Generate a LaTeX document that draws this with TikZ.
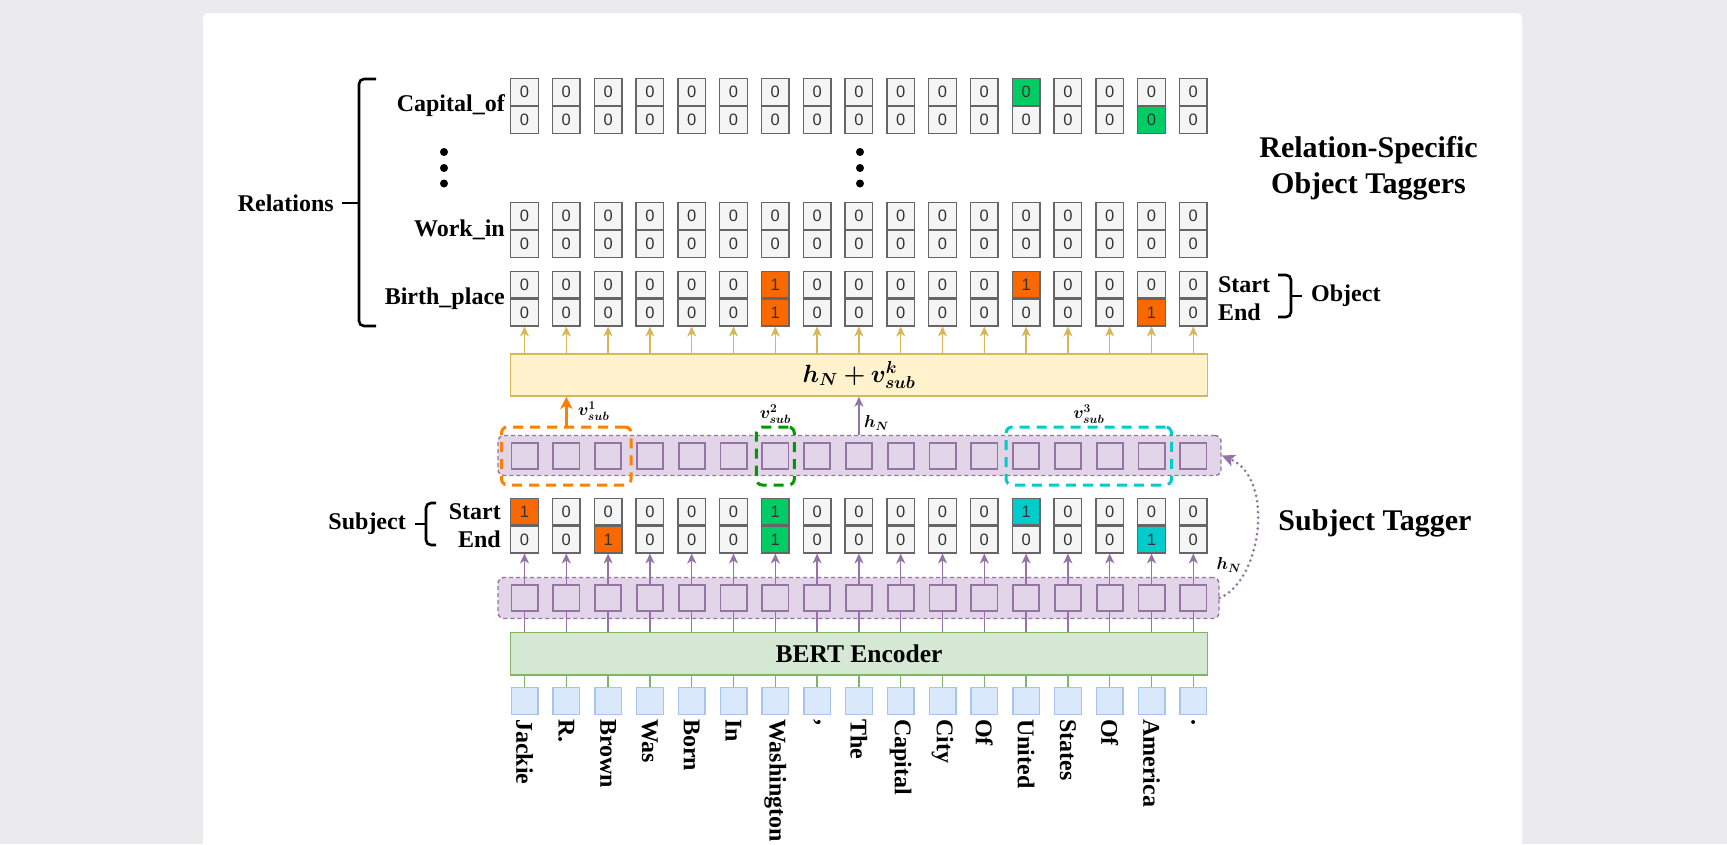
\documentclass[tikz,border=0pt]{standalone}
\usepackage{fontspec}
\usepackage{amsmath,bm}
\setmainfont{Liberation Serif}
\newfontfamily\cellfont{Liberation Sans}
\usetikzlibrary{arrows.meta,positioning,fit}

\definecolor{bggray}{HTML}{EBEBEE}
\definecolor{cellfill}{HTML}{F5F5F5}
\definecolor{cellline}{HTML}{666666}
\definecolor{celltext}{HTML}{333333}
\definecolor{tagorange}{HTML}{FA6800}
\definecolor{taggreen}{HTML}{00CC66}
\definecolor{tagcyan}{HTML}{00CCCC}
\definecolor{hidfill}{HTML}{E1D5E7}
\definecolor{hidline}{HTML}{9673A6}
\definecolor{sumfill}{HTML}{FFF2CC}
\definecolor{sumline}{HTML}{D6B656}
\definecolor{encfill}{HTML}{D5E8D4}
\definecolor{encline}{HTML}{82B366}
\definecolor{tokfill}{HTML}{DAE8FC}
\definecolor{tokline}{HTML}{A9C4EB}
\definecolor{boxorange}{HTML}{FF8000}
\definecolor{boxgreen}{HTML}{009900}
\definecolor{boxcyan}{HTML}{00CCCC}

\tikzset{
  cell/.style={draw=cellline, fill=cellfill, line width=1.4pt, minimum width=27.6pt, minimum height=26.6pt, inner sep=0pt, text=celltext, font=\cellfont\fontsize{16.5}{16.5}\selectfont},
  hidsq/.style={draw=hidline, fill=hidfill, line width=1.8pt, minimum size=26.2pt, inner sep=0pt},
  band/.style={draw=hidline, fill=hidfill, line width=1.4pt, dash pattern=on 4pt off 3pt, rounded corners=6pt, inner sep=0pt},
  tok/.style={draw=tokline, fill=tokfill, line width=1.4pt, minimum width=26.6pt, minimum height=27pt, inner sep=0pt},
  word/.style={font=\fontsize{24}{24}\selectfont\bfseries, rotate=-90, anchor=west, inner sep=0pt},
  lbl/.style={font=\fontsize{24}{28}\selectfont\bfseries, inner sep=0pt},
  headline/.style={font=\fontsize{30}{36}\selectfont\bfseries, align=center, inner sep=0pt},
  sumbox/.style={draw=sumline, fill=sumfill, line width=1.5pt, inner sep=0pt, font=\fontsize{27}{27}\selectfont},
  encbox/.style={draw=encline, fill=encfill, line width=1.5pt, inner sep=0pt, font=\fontsize{25.5}{26}\selectfont\bfseries},
  subspan/.style={line width=3pt, dash pattern=on 10pt off 7pt, rounded corners=6pt, inner ysep=15pt},
  sublbl/.style={font=\fontsize{17}{17}\selectfont, inner sep=0pt},
  sumarrow/.style={draw=sumline, line width=1.5pt, -{Stealth[length=10pt,width=9pt,inset=3pt]}},
  hidarrow/.style={draw=hidline, line width=1.5pt, -{Stealth[length=10pt,width=9pt,inset=3pt]}},
  hidwire/.style={draw=hidline, line width=1.5pt},
  encwire/.style={draw=encline, line width=1.5pt},
  brk/.style={line width=2.6pt, rounded corners=5pt},
  loopback/.style={draw=hidline, line width=3pt, line cap=round, dash pattern=on 0pt off 5.5pt, -{Stealth[length=13pt,width=12pt,inset=3pt]}}
}

\begin{document}
\begin{tikzpicture}[x=1pt,y=-1pt]
\useasboundingbox (0,0) rectangle (1727,844);
\fill[bggray] (0,0) rectangle (1727,844);
\fill[white, rounded corners=5pt] (203,13) rectangle (1522,870);

% hidden state bands
\node[band, minimum width=723pt, minimum height=40pt] (hid2) at (859.5,455.5) {};
\node[band, minimum width=721pt, minimum height=41pt] (hid1) at (858.5,598) {};

% one column per token
\foreach \w [count=\n from 0] in {Jackie,R.,Brown,Was,Born,In,Washington,{,},The,Capital,City,Of,United,States,Of,America,.} {
  \pgfmathsetmacro\cx{524.5+41.8*\n}
  \node[tok] (tok-\n) at (\cx,701) {};
  \node[word] (w-\n) at (\cx,719) {\w};
  \node[hidsq] (low-\n) at (\cx,598) {};
  \node[hidsq] (up-\n) at (\cx,456) {};
  \foreach \r/\ty in {subj/497.5,birth/270.5,work/202,cap/78} {
    \node[cell] (\r-\n-s) at (\cx,\ty+14) {0};
    \node[cell] (\r-\n-e) at (\cx,\ty+42) {0};
  }
}

% tagged positions
\node[cell, fill=taggreen] (cap-12-s) at (cap-12-s) {0};
\node[cell, fill=taggreen] (cap-15-e) at (cap-15-e) {0};
\node[cell, fill=tagorange] (birth-6-s) at (birth-6-s) {1};
\node[cell, fill=tagorange] (birth-6-e) at (birth-6-e) {1};
\node[cell, fill=tagorange] (birth-12-s) at (birth-12-s) {1};
\node[cell, fill=tagorange] (birth-15-e) at (birth-15-e) {1};
\node[cell, fill=tagorange] (subj-0-s) at (subj-0-s) {1};
\node[cell, fill=tagorange] (subj-2-e) at (subj-2-e) {1};
\node[cell, fill=taggreen] (subj-6-s) at (subj-6-s) {1};
\node[cell, fill=taggreen] (subj-6-e) at (subj-6-e) {1};
\node[cell, fill=tagcyan] (subj-12-s) at (subj-12-s) {1};
\node[cell, fill=tagcyan] (subj-15-e) at (subj-15-e) {1};

\node[sumbox, minimum width=697pt, minimum height=42pt] (sum) at (859,375) {$\bm{h_N+v_{sub}^{k}}$};
\node[encbox, minimum width=697pt, minimum height=42.8pt] (enc) at (859,653.8) {BERT Encoder};

\foreach \n in {0,...,16} {
  \draw[encwire] (tok-\n) -- (tok-\n |- enc.south);
  \draw[hidwire] (enc.north -| low-\n) -- (low-\n);
  \draw[hidarrow] (low-\n) -- (subj-\n-e);
  \draw[sumarrow] (sum.north -| birth-\n-e) -- (birth-\n-e);
}

% subject spans
\node[subspan, draw=boxorange, inner xsep=9pt, fit=(up-0)(up-2)] (span1) {};
\node[subspan, draw=boxgreen, inner xsep=5pt, fit=(up-6)] (span2) {};
\node[subspan, draw=boxcyan, inner xsep=6pt, fit=(up-12)(up-15)] (span3) {};

\draw[boxorange, line width=3pt, -{Stealth[length=12pt,width=12pt,inset=3pt]}] (span1.north -| up-1) -- (sum.south -| up-1);
\node[sublbl, anchor=west] (v1) at (578,411) {$\bm{v_{sub}^{1}}$};
\node[sublbl, above=2pt of span2] (v2) {$\bm{v_{sub}^{2}}$};
\node[sublbl, above=2pt of span3] (v3) {$\bm{v_{sub}^{3}}$};
\draw[hidarrow, line width=2.4pt] (hid2.north -| up-8) -- (sum.south -| up-8);
\node[sublbl, anchor=west] (hn1) at (864,423) {$\bm{h_N}$};
\draw[loopback] (hid1.east) .. controls (1262,580) and (1275,478) .. (hid2.east);
\node[sublbl] (hn2) at (1229,565) {$\bm{h_N}$};

% row names
\node[lbl, anchor=east] (capname) at ([xshift=-5pt]cap-0-s.south west) {Capital\_of};
\node[lbl, anchor=east] (workname) at ([xshift=-5pt]work-0-s.south west) {Work\_in};
\node[lbl, anchor=east] (birthname) at ([xshift=-5pt]birth-0-s.south west) {Birth\_place};
\node[lbl, anchor=east] (sstart) at ([xshift=-9pt]subj-0-s.west) {Start};
\node[lbl, anchor=east] (send) at ([xshift=-9pt]subj-0-e.west) {End};
\node[lbl, anchor=west] (ostart) at ([xshift=10pt]birth-16-s.east) {Start};
\node[lbl, anchor=west] (oend) at ([xshift=10pt]birth-16-e.east) {End};

% braces
\draw[brk] (376,79) -| (359,326) -- (376,326);
\draw[brk] (359,203) -- (342,203);
\node[lbl, anchor=east] (rel) at (334,203) {Relations};
\draw[brk] (436,503) -| (426,545) -- (436,545);
\draw[brk] (426,524) -- (415,524);
\node[lbl, anchor=east] (subjname) at (406,524) {Subject};
\draw[brk] (1278,275) -| (1291,317) -- (1278,317);
\draw[brk] (1291,296) -- (1302,296);
\node[lbl, anchor=west] (objname) at (1311,296) {Object};

\node[headline] (objtitle) at (1368.5,168) {Relation-Specific\\Object Taggers};
\node[headline] (subjtitle) at (1375,523) {Subject Tagger};

% vertical ellipses
\foreach \yy in {152,168,183.5} {
  \fill (444,\yy) circle (4pt);
  \fill (860,\yy) circle (4pt);
}
\end{tikzpicture}
\end{document}
